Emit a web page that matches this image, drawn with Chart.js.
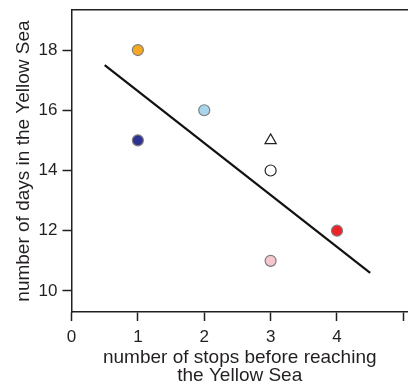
<!DOCTYPE html>
<html>
<head>
<meta charset="utf-8">
<script src="https://cdn.jsdelivr.net/npm/chart.js@4"></script>
<style>
  html, body { margin: 0; padding: 0; background: #fff; }
  #wrap { width: 408px; height: 389px; }
</style>
</head>
<body>
<div id="wrap"><canvas id="chart" width="408" height="389"></canvas></div>
<script>
// number of stops before reaching the Yellow Sea vs days spent there
const stops = [1, 2, 1, 3, 3, 4, 3];
const days = [18, 16, 15, 15, 14, 12, 11];

// fitted line end points
const fitStops = [0.5, 4.5];
const fitDays = [17.5, 10.6];

const xTicks = [0, 1, 2, 3, 4, 5];
const yTicks = [10, 12, 14, 16, 18];

const fills = ['#f7a823', '#a7d6ec', '#2e3192', '#ffffff', '#ffffff', '#ec2327', '#f5c6ce'];
const edges = ['#7d7d7d', '#7d7d7d', '#7d7d7d', '#222222', '#222222', '#7d7d7d', '#7d7d7d'];
const shapes = ['circle', 'circle', 'circle', 'triangle', 'circle', 'circle', 'circle'];
const sizes = [5.5, 5.5, 5.5, 6.5, 5.5, 5.5, 5.5];

const FONT = "'Liberation Sans', Arial, sans-serif";
const INK = '#231f20';

const points = stops.map((x, i) => ({ x, y: days[i] }));
const fit = fitStops.map((x, i) => ({ x, y: fitDays[i] }));

const axisGrid = {
  drawOnChartArea: false,
  drawTicks: true,
  tickLength: 9,
  tickWidth: 1.5,
  color: INK,
};

new Chart(document.getElementById('chart'), {
  type: 'scatter',
  data: {
    datasets: [
      {
        data: points,
        backgroundColor: fills,
        borderColor: edges,
        borderWidth: 1.2,
        pointStyle: shapes,
        pointRadius: sizes,
        pointHoverRadius: sizes,
        order: 1,
      },
      {
        type: 'line',
        data: fit,
        borderColor: '#111',
        borderWidth: 2.2,
        pointRadius: 0,
        fill: false,
        order: 2,
      },
    ],
  },
  options: {
    responsive: false,
    animation: false,
    events: [],
    layout: { autoPadding: false, padding: { top: 10, right: 0, left: 0, bottom: 0 } },
    plugins: { legend: { display: false }, tooltip: { enabled: false } },
    scales: {
      x: {
        type: 'linear',
        min: 0,
        max: 5.07,
        afterBuildTicks: (s) => { s.ticks = xTicks.map((v) => ({ value: v })); },
        afterFit: (s) => {
          s.height = 77;
          s.paddingLeft = 0;
          s.paddingRight = 0;
        },
        ticks: {
          color: INK,
          padding: 6,
          font: { family: FONT, size: 17 },
          callback: (v) => (v === 5 ? '' : v),
        },
        grid: axisGrid,
        border: { display: true, color: INK, width: 1.5 },
        title: {
          display: true,
          text: ['number of stops before reaching', 'the Yellow Sea'],
          color: INK,
          font: { family: FONT, size: 19, lineHeight: 0.95 },
          padding: { top: 5 },
        },
      },
      top: {
        type: 'linear',
        position: 'top',
        min: 0,
        max: 5.07,
        afterFit: (s) => { s.height = 0; },
        ticks: { display: false },
        grid: { display: false, drawOnChartArea: false, drawTicks: false },
        border: { display: true, color: INK, width: 1.5 },
      },
      y: {
        type: 'linear',
        min: 9.3,
        max: 19.33,
        afterBuildTicks: (s) => { s.ticks = yTicks.map((v) => ({ value: v })); },
        afterFit: (s) => {
          s.width = 71.5;
          s.paddingTop = 0;
          s.paddingBottom = 0;
        },
        ticks: {
          color: INK,
          padding: 5,
          font: { family: FONT, size: 17 },
        },
        grid: axisGrid,
        border: { display: true, color: INK, width: 1.5 },
        title: {
          display: true,
          text: 'number of days in the Yellow Sea',
          color: INK,
          font: { family: FONT, size: 19 },
          padding: { top: 12, bottom: 0 },
        },
      },
    },
  },
});
</script>
</body>
</html>
